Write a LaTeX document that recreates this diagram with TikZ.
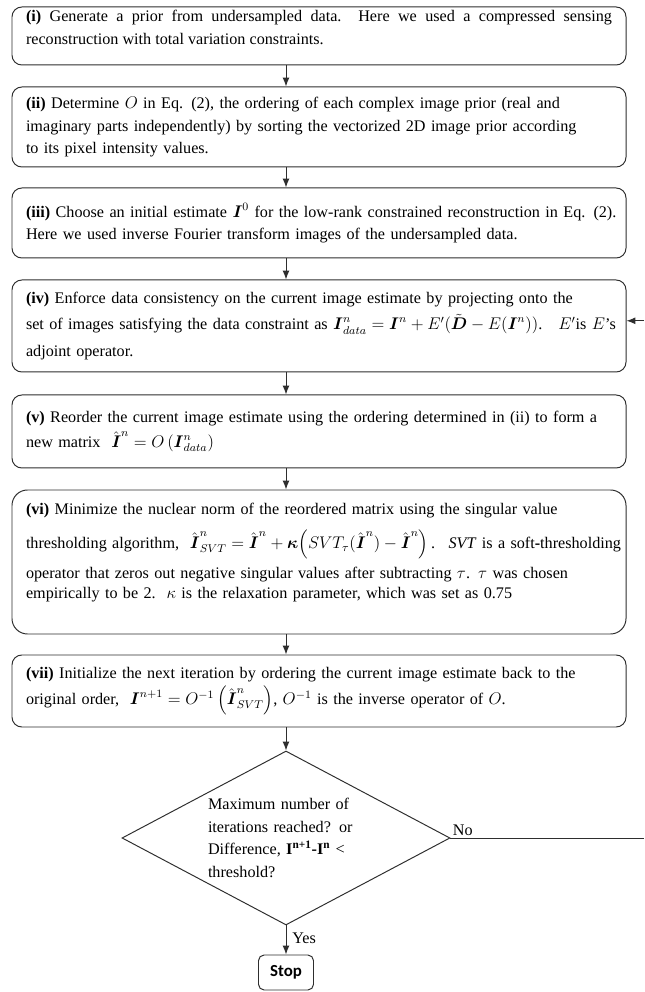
\documentclass[tikz,border=0pt]{standalone}
\usepackage{amsmath,amssymb}
\usepackage{fontspec}
\setmainfont{Liberation Serif}
\newfontfamily\stopfont{Carlito}
\usetikzlibrary{arrows.meta,shapes.geometric}
\definecolor{edge}{HTML}{2E2E2E}
\newcommand{\bI}{\boldsymbol{I}}
\newcommand{\hI}{\hat{\boldsymbol{I}}}
\tikzset{
  stepbox/.style={rounded corners=7pt,draw=edge,line width=0.7pt,minimum width=15.35cm,text width=14.65cm,inner xsep=0.35cm,inner ysep=0pt,align=left,font=\fontsize{11.5}{16}\selectfont},
  decision/.style={diamond,draw=edge,line width=0.7pt,aspect=1.885,minimum width=8.2cm,minimum height=4.35cm,inner sep=0pt,text width=3.9cm,align=left,font=\fontsize{11.5}{16}\selectfont},
  stopbox/.style={rounded corners=4pt,draw=edge,line width=0.7pt,minimum width=1.375cm,minimum height=0.875cm,font=\stopfont\bfseries\fontsize{12}{14}\selectfont},
  lbl/.style={font=\fontsize{11.5}{14}\selectfont,inner sep=1.5pt},
  arr/.style={-{Latex[length=2.2mm,width=1.7mm]},draw=edge,line width=0.7pt},
  plain/.style={draw=edge,line width=0.7pt}
}
\begin{document}
\begin{tikzpicture}[x=1cm,y=1cm]
\path[use as bounding box] (0,0) rectangle (16.1,24.8);
% steps
\node[stepbox,align=justify,minimum height=1.45cm] (s1) at (7.975,23.9) {\textbf{(i)} Generate a prior from undersampled data.\ \ Here we used a compressed sensing\linebreak reconstruction with total variation constraints.\\[-4pt]\mbox{}};
\node[stepbox,minimum height=2.0cm] (s2) at (7.975,21.625) {\textbf{(ii)} Determine $O$ in Eq. (2), the ordering of each complex image prior (real and\\ \mbox{imaginary parts independently) by sorting the vectorized 2D image prior according}\\ to its pixel intensity values.};
\node[stepbox,minimum height=1.75cm] (s3) at (7.975,19.225) {\mbox{\textbf{(iii)} Choose an initial estimate $\bI^0$ for the low-rank constrained reconstruction in Eq. (2).}\\ Here we used inverse Fourier transform images of the undersampled data.};
\node[stepbox,minimum height=2.3cm] (s4) at (7.975,16.65) {\textbf{(iv)} Enforce data consistency on the current image estimate by projecting onto the\\[3pt] \mbox{set of images satisfying the data constraint as $\bI^n_{data}=\bI^n+E'(\tilde{\boldsymbol{D}}-E(\bI^n))$.\ \ \ $E'$is $E$'s}\\[3pt] adjoint operator.};
\node[stepbox,minimum height=1.825cm] (s5) at (7.975,14.0125) {\mbox{\textbf{(v)} Reorder the current image estimate using the ordering determined in (ii) to form a}\\[2pt] new matrix \ $\hI^n=O\left(\bI^n_{data}\right)$};
\node[stepbox,rounded corners=11pt,minimum height=3.6cm] (s6) at (7.975,10.75) {\textbf{(vi)} Minimize the nuclear norm of the reordered matrix using the singular value\\[7pt] \mbox{thresholding algorithm, \ $\hI^n_{SVT}=\hI^n+\boldsymbol{\kappa}\Bigl(SVT_\tau(\hI^n)-\hI^n\Bigr)$\,. \ \textit{SVT} is a soft\textbf{-}thresholding}\\[5pt] operator that zeros out negative singular values after subtracting $\tau$. $\tau$ was chosen\\[-1.5pt] empirically to be 2.\ \ $\kappa$ is the relaxation parameter, which was set as 0.75\\ \mbox{}};
\node[stepbox,minimum height=1.8cm] (s7) at (7.975,7.525) {\textbf{(vii)} Initialize the next iteration by ordering the current image estimate back to the\\[3pt] original order, \ $\bI^{n+1}=O^{-1}\left(\hI^n_{SVT}\right)$, $O^{-1}$ is the inverse operator of $O$.};
% test and stop
\node[decision] (dec) at (7.15,3.85) {Maximum number of\\ iterations reached? or\\ Difference, \textbf{I\textsuperscript{n+1}-I\textsuperscript{n}} <\\ threshold?};
\node[stopbox] (stop) at (7.15,0.4875) {Stop};
\node[lbl,anchor=south west] (no) at (dec.east) {No};
\node[lbl,anchor=west] (yes) at (7.25,1.35) {Yes};
\coordinate (noend) at (16.1,3.85); \coordinate (backin) at (16.1,16.78);
% connectors
\draw[arr] (s1.south -| dec) -- (s2.north -| dec); \draw[arr] (s2.south -| dec) -- (s3.north -| dec);
\draw[arr] (s3.south -| dec) -- (s4.north -| dec); \draw[arr] (s4.south -| dec) -- (s5.north -| dec);
\draw[arr] (s5.south -| dec) -- (s6.north -| dec); \draw[arr] (s6.south -| dec) -- (s7.north -| dec);
\draw[arr] (s7.south -| dec) -- (dec.north); \draw[arr] (dec.south) -- (stop.north);
\draw[plain] (dec.east) -- (noend);
\draw[arr] (backin) -- (backin -| s4.east);
\end{tikzpicture}
\end{document}
